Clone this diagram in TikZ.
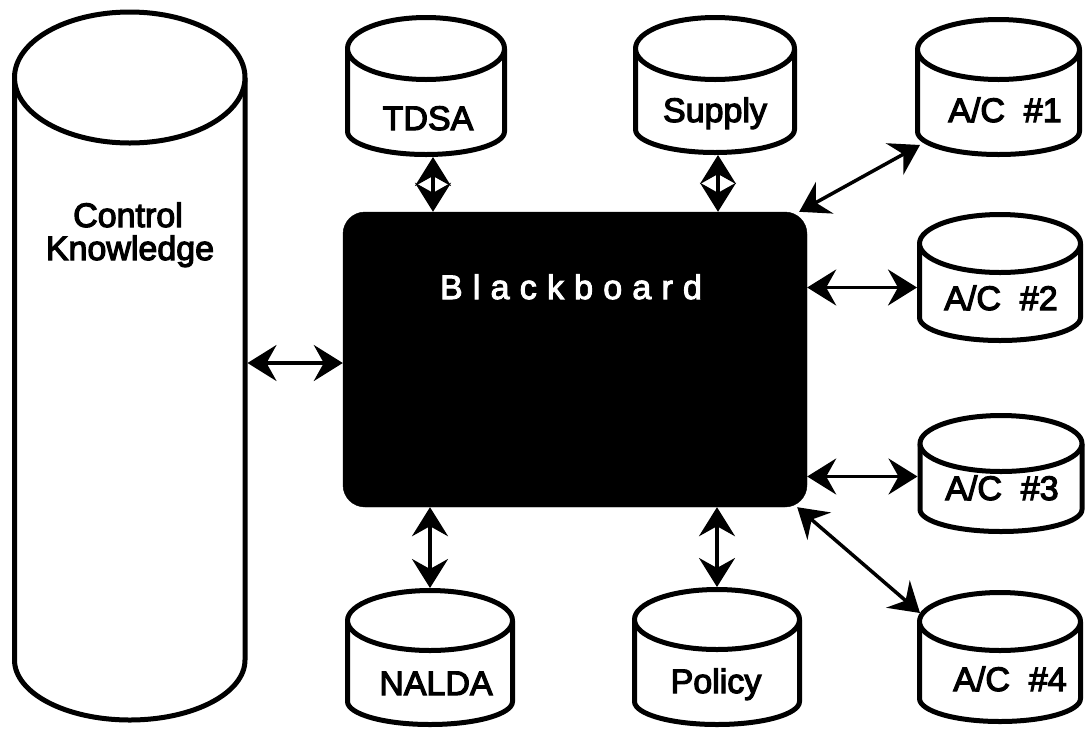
\documentclass[tikz,border=0pt]{standalone}
\usepackage{fontspec}
\setmainfont{Liberation Sans}
\newfontfamily\lblfont[FakeBold=3.5]{Liberation Sans}
\newfontfamily\spacedfont[LetterSpace=30,FakeBold=3]{Liberation Sans}
\usetikzlibrary{arrows.meta}
% name, cx, y of top ellipse centre, y where sides end, rx, ry top, ry bottom
\newcommand\dbcyl[7]{%
  \path[cyl] (#2-#5,#3) -- (#2-#5,#4)
    .. controls (#2-#5,#4+0.5523*#7) and (#2-0.5523*#5,#4+#7) .. (#2,#4+#7)
    .. controls (#2+0.5523*#5,#4+#7) and (#2+#5,#4+0.5523*#7) .. (#2+#5,#4)
    -- (#2+#5,#3);
  \path[cyl] (#2,#3) ellipse[x radius=#5, y radius=#6];
  \node[inner sep=0pt, outer sep=0pt, minimum width={2*#5+5}, minimum height={#4+#7-#3+#6+5}]
    (#1) at (#2,{(#3-#6+#4+#7)/2}) {};
}
\begin{document}
\begin{tikzpicture}[x=1pt,y=-1pt,
  cyl/.style={draw=black, line width=5pt, fill=white, line join=round},
  lbl/.style={font=\lblfont\fontsize{34}{40}\selectfont, inner sep=0pt},
  bi/.style={line width=3.5pt, {Stealth[length=29pt,width=36pt,inset=10pt]}-{Stealth[length=29pt,width=36pt,inset=10pt]}},
  board/.style={fill=black, draw=black, rounded corners=22pt, inner sep=0pt, minimum width=464pt, minimum height=295pt}]
\useasboundingbox (0,0) rectangle (1085,729);

% Control Knowledge
\dbcyl{ck}{129.75}{77.5}{660}{115.25}{65.5}{60}
\node[lbl, anchor=base] (ck1) at (128,227) {Control};
\node[lbl, anchor=base] (ck2) at (130,260) {Knowledge};

% Blackboard
\node[board] (bb) at (575,359.5) {};
\node[lbl, anchor=base, text=white, font=\spacedfont\fontsize{34}{40}\selectfont] (bbtext) at (571,299) {Blackboard};

% small cylinders
\dbcyl{tdsa}{426}{48.5}{131.5}{78.5}{31}{23}
\node[lbl, anchor=base] (tdsal) at (428,130) {TDSA};
\dbcyl{supply}{715}{48.5}{129.5}{79.5}{31}{23}
\node[lbl, anchor=base] (supplyl) at (715,122) {Supply};
\dbcyl{ac1}{998.5}{49.5}{131.5}{81}{30}{23}
\node[lbl, anchor=base] (ac1l) at (1005,122) {A/C\ \ \#1};
\dbcyl{ac2}{1000}{243.5}{317.5}{80.5}{29}{23}
\node[lbl, anchor=base] (ac2l) at (1001,310) {A/C\ \ \#2};
\dbcyl{ac3}{1001}{443.5}{509.5}{81}{28}{22}
\node[lbl, anchor=base] (ac3l) at (1002,500) {A/C\ \ \#3};
\dbcyl{ac4}{1000}{621.5}{698.5}{80.5}{29}{23}
\node[lbl, anchor=base] (ac4l) at (1010,691) {A/C\ \ \#4};
\dbcyl{nalda}{430}{620.5}{701.5}{82.5}{30}{23}
\node[lbl, anchor=base] (naldal) at (436,695) {NALDA};
\dbcyl{policy}{717}{619.5}{701.5}{82.5}{30}{23}
\node[lbl, anchor=base] (policyl) at (716,693) {Policy};

% connectors
\draw[bi] ([yshift=3pt]ck.east) -- ([yshift=3pt]ck.east -| bb.west);
\draw[bi] ([xshift=7pt]tdsa.south) -- ([xshift=7pt]tdsa.south |- bb.north);
\draw[bi] ([xshift=3pt]supply.south) -- ([xshift=3pt]supply.south |- bb.north);
\draw[bi] (nalda.north) -- (nalda.north |- bb.south);
\draw[bi] (policy.north) -- (policy.north |- bb.south);
\draw[bi] ([xshift=-8pt]bb.north east) -- ([shift={(5,-12)}]ac1.south west);
\draw[bi] ([yshift=-10pt]ac2.west -| bb.east) -- ([yshift=-10pt]ac2.west);
\draw[bi] ([yshift=-3pt]ac3.west -| bb.east) -- ([yshift=-3pt]ac3.west);
\draw[bi] ([xshift=-10pt]bb.south east) -- ([shift={(3,23)}]ac4.north west);
\end{tikzpicture}
\end{document}
